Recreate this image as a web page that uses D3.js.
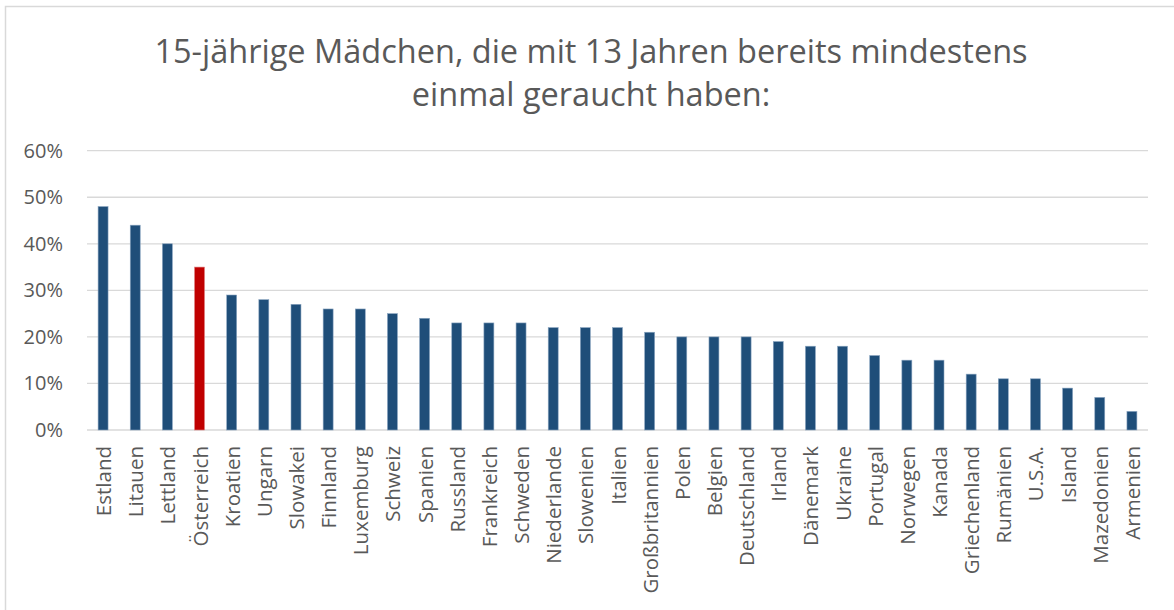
<!DOCTYPE html>
<html>
<head>
<meta charset="utf-8">
<script src="https://cdn.jsdelivr.net/npm/d3@7"></script>
<style>
  html, body { margin: 0; padding: 0; background: #fff; }
  svg { display: block; }
</style>
</head>
<body>
<svg id="chart" width="1174" height="610"></svg>
<script>
const titleLines = ["15-jährige Mädchen, die mit 13 Jahren bereits mindestens", "einmal geraucht haben:"];
const countries = ["Estland","Litauen","Lettland","Österreich","Kroatien","Ungarn","Slowakei","Finnland","Luxemburg","Schweiz","Spanien","Russland","Frankreich","Schweden","Niederlande","Slowenien","Italien","Großbritannien","Polen","Belgien","Deutschland","Irland","Dänemark","Ukraine","Portugal","Norwegen","Kanada","Griechenland","Rumänien","U.S.A.","Island","Mazedonien","Armenien"];
const values = [48,44,40,35,29,28,27,26,26,25,24,23,23,23,22,22,22,21,20,20,20,19,18,18,16,15,15,12,11,11,9,7,4];
const highlight = ["Österreich"];
const yTicks = [0,10,20,30,40,50,60];

const svg = d3.select("#chart");
const W = 1174, H = 610;
const plot = { left: 87, right: 1148, top: 150.7, bottom: 430 };
const font = "'Open Sans', 'DejaVu Sans', sans-serif";
const textColor = "#595959";

// outer border
svg.append("rect").attr("x", 5.5).attr("y", 6.5).attr("width", W + 10).attr("height", H + 10)
  .attr("fill", "#fff").attr("stroke", "#d9d9d9").attr("stroke-width", 1.5);

const x = d3.scaleBand().domain(countries).range([plot.left, plot.right]).paddingInner(0.69).paddingOuter(0.345);
const y = d3.scaleLinear().domain([0, 60]).range([plot.bottom, plot.top]);

// gridlines
svg.append("g").selectAll("line").data(yTicks).join("line")
  .attr("x1", plot.left).attr("x2", plot.right)
  .attr("y1", d => y(d)).attr("y2", d => y(d))
  .attr("stroke", "#d9d9d9").attr("stroke-width", 1.3);

// y axis labels
const yAxis = d3.axisLeft(y).tickValues(yTicks).tickFormat(d => d + "%").tickSize(0).tickPadding(0);
const gy = svg.append("g").attr("transform", `translate(63,0)`).call(yAxis);
gy.select(".domain").remove();
gy.selectAll("text").attr("font-family", font).attr("font-size", 20).attr("fill", textColor);

// bars
svg.append("g").selectAll("rect").data(countries).join("rect")
  .attr("x", d => x(d)).attr("width", x.bandwidth())
  .attr("y", (d, i) => y(values[i])).attr("height", (d, i) => y(0) - y(values[i]))
  .attr("fill", d => highlight.includes(d) ? "#C00000" : "#1F4E79")
  .attr("stroke", d => highlight.includes(d) ? "#e08080" : "#8aa5c0")
  .attr("stroke-width", 0.6);

// x axis labels
const xAxis = d3.axisBottom(x).tickSize(0).tickPadding(0);
const gx = svg.append("g").attr("transform", `translate(0,${plot.bottom})`).call(xAxis);
gx.select(".domain").remove();
gx.selectAll("text")
  .attr("font-family", font).attr("font-size", 20.5).attr("fill", textColor)
  .attr("text-anchor", "end").attr("dy", null)
  .attr("transform", "translate(0,16) rotate(-90)")
  .attr("x", 0).attr("y", 0).attr("dominant-baseline", "central");

// title
const title = svg.append("g");
titleLines.forEach((t, i) => {
  title.append("text").attr("x", 591).attr("y", 63 + i * 43)
    .attr("text-anchor", "middle").attr("font-family", font).attr("font-size", 32.5)
    .attr("fill", textColor).text(t);
});
</script>
</body>
</html>
